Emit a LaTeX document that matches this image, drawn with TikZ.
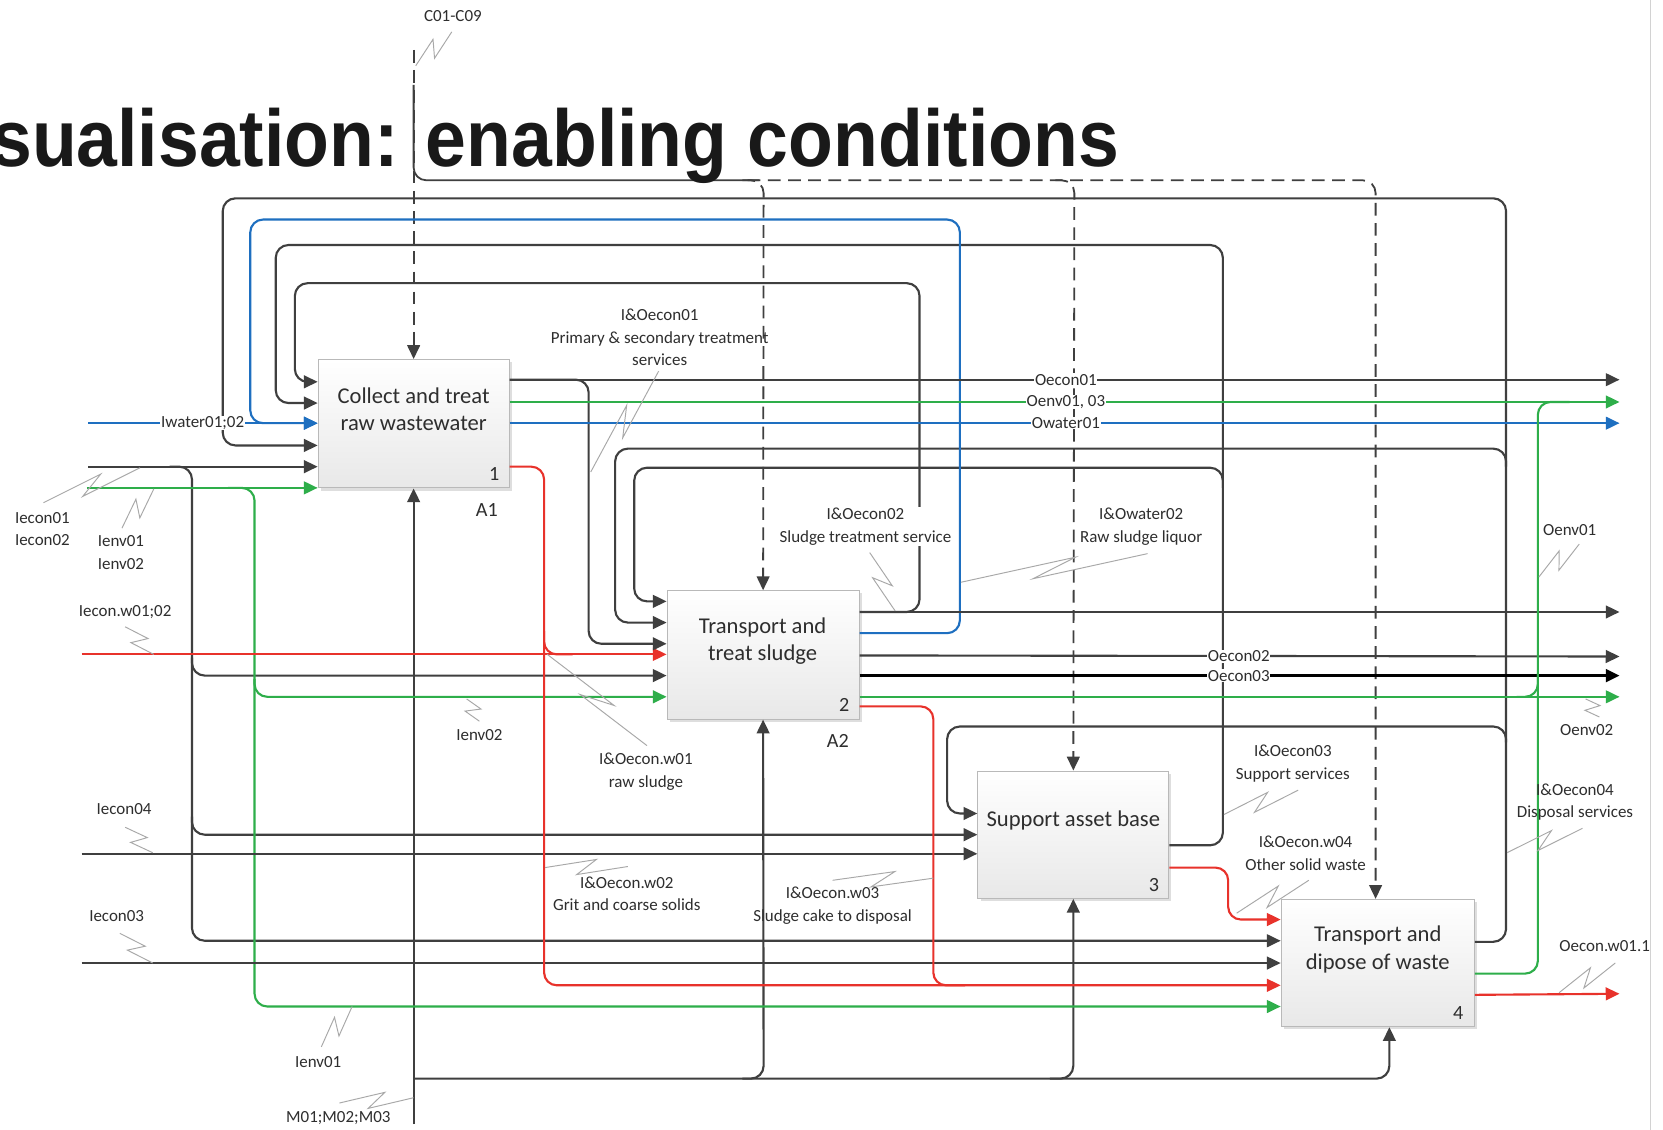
\documentclass[tikz,border=0pt]{standalone}
\usepackage{fontspec}
\setmainfont{Carlito}
\newfontfamily\titlefont{Liberation Sans}
\usetikzlibrary{arrows.meta,calc,shadows}

\definecolor{ln}{HTML}{3F3F3F}
\definecolor{bl}{HTML}{1E6FC0}
\definecolor{gr}{HTML}{2EAE4A}
\definecolor{rd}{HTML}{E8322B}
\definecolor{sq}{HTML}{A8A8A8}
\definecolor{txt}{HTML}{2E2E2E}

\tikzset{
  flow/.style={draw=ln, line width=2pt, rounded corners=12pt},
  tip/.style={-{Triangle[length=13pt,width=12pt]}},
  bflow/.style={flow, draw=bl},
  gflow/.style={flow, draw=gr},
  rflow/.style={flow, draw=rd},
  kflow/.style={flow, draw=black, line width=2.6pt},
  ctl/.style={draw=ln, line width=1.7pt, dash pattern=on 12pt off 7pt, rounded corners=12pt},
  act/.style={draw=gray!55, line width=1pt, top color=white, bottom color=gray!18,
    minimum width=180pt, minimum height=121pt, inner sep=0pt,
    drop shadow={shadow xshift=2.5pt, shadow yshift=-2.5pt, fill=gray!50, opacity=0.5}},
  acttext/.style={font=\fontsize{21.3}{26}\selectfont, align=center, text=txt},
  num/.style={font=\fontsize{19}{22}\selectfont, text=txt},
  lbl/.style={font=\fontsize{16}{21}\selectfont, align=center, text=txt, inner sep=1pt},
  inl/.style={lbl, fill=white, inner sep=0.6pt},
  squigline/.style={draw=sq, line width=0.9pt},
}

% lightning-style leader between a label and its arrow
\newcommand\squig[2]{%
  \draw[squigline] (#1) -- ($(#1)!0.62!(#2)!7pt!90:(#2)$)
    -- ($(#1)!0.38!(#2)!7pt!-90:(#2)$) -- (#2);}

\begin{document}
\begin{tikzpicture}[x=1pt, y=-1pt]
\fill[white] (0,0) rectangle (1568,1065);
\useasboundingbox (0,0) rectangle (1568,1065);

% page edge
\draw[gray!35, line width=1pt] (1556,0) -- (1556,1065);

% activity boxes
\node[act] (b1) at (390,399.5) {};
\node[act, minimum width=181pt] (b2) at (719.5,617.5) {};
\node[act, minimum height=120pt] (b3) at (1012,787) {};
\node[act, minimum width=182pt, minimum height=120pt] (b4) at (1299,908) {};

% free ends of boundary arrows
\coordinate (cTop) at (390,47);
\coordinate (mBot) at (390,1060);
\coordinate (iW) at (83,399);
\coordinate (iE12) at (83,440);
\coordinate (iEnv) at (82,460);
\coordinate (iW12) at (77,617);
\coordinate (iE4) at (77,805);
\coordinate (iE3) at (77,908);
\coordinate (oE1) at (1527,358);
\coordinate (oEnv) at (1527,379);
\coordinate (oW1) at (1527,399);
\coordinate (oS) at (1527,577);
\coordinate (oE2) at (1527,619);
\coordinate (oE3) at (1527,637);
\coordinate (oEnv2) at (1527,657);
\coordinate (oW11) at (1527,937);

% ---------- controls ----------
\draw[ctl,tip] (cTop) -- (b1.north);
\draw[flow, line width=1.7pt] (390,80) -- (390,170) -- (716,170);
\draw[ctl,tip] (705,170) -- (1297,170) -- (b4.north -| 1297,0);
\draw[ctl,tip] (700,170) -- (720,170) -- (b2.north);
\draw[ctl,tip] (995,170) -- (1013,170) -- (b3.north);

% ---------- mechanisms ----------
\draw[flow,tip] (mBot) -- (b1.south);
\draw[flow,tip] (390,1017) -- (1310,1017) -- (b4.south -| 1310,0);
\draw[flow,tip] (700,1017) -- (720,1017) -- (b2.south);
\draw[flow,tip] (990,1017) -- (1012,1017) -- (b3.south);

% ---------- feedback loops ----------
\draw[flow,tip] (b2.east |- 0,577) -- (867,577) -- (867,267) -- (278,267) -- (278,360) -- (b1.west |- 0,360);
\draw[flow,tip] (b3.east |- 0,797) -- (1153,797) -- (1153,231) -- (260,231) -- (260,380) -- (b1.west |- 0,380);
\draw[flow,tip] (1153,460) -- (1153,441) -- (598,441) -- (598,567) -- (b2.west |- 0,567);
\draw[flow,tip] (b4.east |- 0,888) -- (1420,888) -- (1420,187) -- (210,187) -- (210,420) -- (b1.west |- 0,420);
\draw[flow,tip] (1420,440) -- (1420,423) -- (580,423) -- (580,587) -- (b2.west |- 0,587);
\draw[flow,tip] (1420,700) -- (1420,685) -- (893,685) -- (893,767) -- (b3.west |- 0,767);
\draw[bflow,tip] (b2.east |- 0,597) -- (905,597) -- (905,207) -- (236,207) -- (236,399) -- (b1.west |- 0,399);

% ---------- inputs from the left ----------
\draw[bflow,tip] (iW) -- (b1.west |- 0,399);
\draw[flow,tip] (iE12) -- (b1.west |- 0,440);
\draw[flow,tip] (160,440) -- (181,440) -- (181,637) -- (b2.west |- 0,637);
\draw[flow,tip] (181,620) -- (181,787) -- (b3.west |- 0,787);
\draw[flow,tip] (181,770) -- (181,887) -- (b4.west |- 0,887);
\draw[gflow,tip] (iEnv) -- (b1.west |- 0,460);
\draw[gflow,tip] (215,460) -- (240,460) -- (240,657) -- (b2.west |- 0,657);
\draw[gflow,tip] (240,640) -- (240,949) -- (b4.west |- 0,949);
\draw[rflow,tip] (iW12) -- (b2.west |- 0,617);
\draw[flow,tip] (iE4) -- (b3.west |- 0,805);
\draw[flow,tip] (iE3) -- (b4.west |- 0,908);

% ---------- box 1 outputs ----------
\draw[flow,tip] (b1.east |- 0,358) -- (oE1);
\draw[flow,tip] (b1.east |- 0,358) -- (555,358) -- (555,607) -- (b2.west |- 0,607);
\draw[gflow,tip] (b1.east |- 0,379) -- (oEnv);
\draw[bflow,tip] (b1.east |- 0,399) -- (oW1);
\draw[rflow,tip] (b1.east |- 0,440) -- (513,440) -- (513,929) -- (b4.west |- 0,929);
\draw[rflow] (513,595) -- (513,617) -- (540,617);

% ---------- box 2 outputs ----------
\draw[flow,tip] (b2.east |- 0,577) -- (oS);
\draw[flow,tip] (b2.east |- 0,618) -- (oE2);
\draw[kflow,tip] (b2.east |- 0,637) -- (oE3);
\draw[gflow,tip] (b2.east |- 0,657) -- (oEnv2);
\draw[rflow] (b2.east |- 0,666) -- (880,666) -- (880,929) -- (910,929);

% ---------- box 3 outputs ----------
\draw[rflow,tip] (b3.east |- 0,818) -- (1158,818) -- (1158,867) -- (b4.west |- 0,867);

% ---------- box 4 outputs ----------
\draw[gflow] (b4.east |- 0,918) -- (1450,918) -- (1450,379) -- (1480,379);
\draw[gflow] (1430,657) -- (1450,657) -- (1450,635);
\draw[rflow,tip] (b4.east |- 0,938) -- (oW11);

% ---------- box texts ----------
\node[acttext] at (390,386) {Collect and treat\\raw wastewater};
\node[acttext] at (719,604.5) {Transport and\\treat sludge};
\node[acttext] at (1012,774) {Support asset base};
\node[acttext] at (1299,895) {Transport and\\dipose of waste};
\node[num] at (466,447) {1};
\node[num] at (796,665) {2};
\node[num] at (1088,834) {3};
\node[num] at (1375,955) {4};
\node[num] at (459,481) {A1};
\node[num] at (790,699) {A2};

% ---------- inline arrow labels ----------
\node[inl] at (191,399) {Iwater01;02};
\node[inl] at (1005,358) {Oecon01};
\node[inl] at (1005,379) {Oenv01, 03};
\node[inl] at (1005,399) {Owater01};
\node[inl] at (1168,619) {Oecon02};
\node[inl] at (1168,637) {Oecon03};

% ---------- free labels ----------
\node[lbl] (lC) at (427,15) {C01-C09};
\node[lbl] (l01) at (622,318) {I\&Oecon01\\Primary \& secondary treatment\\services};
\node[lbl] (lIe12) at (40,499) {Iecon01\\Iecon02};
\node[lbl] (lIv12) at (114,521) {Ienv01\\Ienv02};
\node[lbl, fill=white] (l02) at (816,496.5) {I\&Oecon02\\Sludge treatment service};
\node[lbl] (lw02) at (1076,496.5) {I\&Owater02\\Raw sludge liquor};
\node[lbl] (lOv1) at (1480,500) {Oenv01};
\node[lbl] (lIw) at (118,577) {Iecon.w01;02};
\node[lbl] (lIv2) at (452,693) {Ienv02};
\node[lbl] (lOv2) at (1496,688) {Oenv02};
\node[lbl] (lw01) at (609,727.5) {I\&Oecon.w01\\raw sludge};
\node[lbl] (l03) at (1219,720) {I\&Oecon03\\Support services};
\node[lbl] (l04) at (1485,756.5) {I\&Oecon04\\Disposal services};
\node[lbl] (lIe4) at (117,763) {Iecon04};
\node[lbl] (lw04) at (1231,804.5) {I\&Oecon.w04\\Other solid waste};
\node[lbl] (lw02b) at (591,843) {I\&Oecon.w02\\Grit and coarse solids};
\node[lbl] (lw03) at (785,854) {I\&Oecon.w03\\Sludge cake to disposal};
\node[lbl] (lIe3) at (110,864) {Iecon03};
\node[lbl] (lOw) at (1513,892) {Oecon.w01.1};
\node[lbl] (lIv1) at (300,1001) {Ienv01};
\node[lbl] (lM) at (319,1054) {M01;M02;M03};

% ---------- label leaders ----------
\squig{392,62}{426,30}
\squig{557,445}{621,350}
\squig{41,474}{132,441}
\squig{115,498}{145,461}
\squig{118,591}{145,617}
\squig{452,680}{440,659}
\squig{516,617}{610,703}
\squig{820,521}{844,576}
\squig{906,549}{1082,522}
\squig{1451,544}{1489,513}
\squig{1495,659}{1508,676}
\squig{1154,768}{1224,745}
\squig{1166,861}{1234,830}
\squig{1421,804}{1492,781}
\squig{1470,936}{1523,908}
\squig{785,830}{880,828}
\squig{514,818}{592,817}
\squig{118,780}{144,804}
\squig{113,880}{144,908}
\squig{303,987}{332,949}
\squig{320,1040}{390,1035}

% ---------- heading ----------
\node[anchor=base east, font=\titlefont\bfseries\fontsize{76}{80}\selectfont,
      xscale=0.91, text=black!90, inner sep=0pt] (title) at (1055,157)
      {sualisation: enabling conditions};
\end{tikzpicture}
\end{document}
